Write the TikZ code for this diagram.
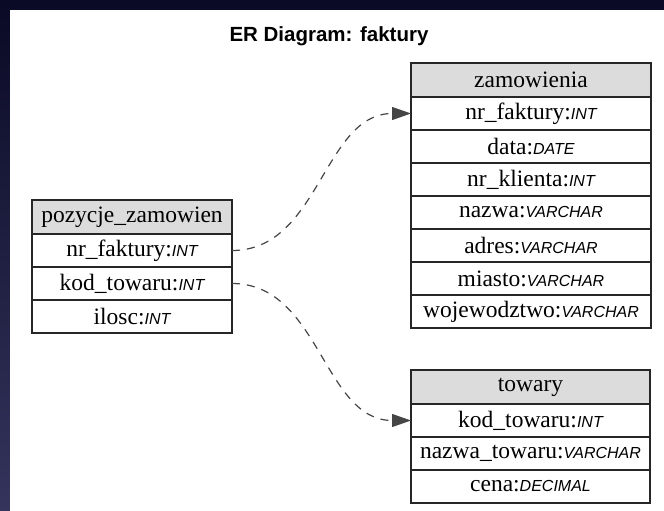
\documentclass[tikz,border=0pt]{standalone}
\usepackage{fontspec}
\setmainfont{Liberation Serif}
\newfontfamily\typefont{Liberation Sans}
\usetikzlibrary{arrows.meta,positioning}

\definecolor{bgtop}{RGB}{10,10,38}
\definecolor{bgbottom}{RGB}{52,52,92}
\definecolor{headgray}{RGB}{220,220,220}
\definecolor{edgegray}{RGB}{70,70,70}
\newcommand{\coltype}[1]{{\fontsize{16}{16}\typefont\itshape #1}}

\begin{document}
\begin{tikzpicture}
	[x=1pt,y=-1pt,
	 %Styles
	 table_head/.style={rectangle,draw=black!85,line width=1.4pt,fill=headgray,anchor=north west,
	   minimum width=#1,minimum height=34pt,inner sep=0pt,outer sep=0pt,font=\fontsize{23.5}{23.5}\selectfont},
	 table_field/.style={rectangle,draw=black!85,line width=1.4pt,fill=white,
	   minimum width=#1,minimum height=33pt,inner sep=0pt,outer sep=0pt,font=\fontsize{23.5}{23.5}\selectfont},
	 fk_edge/.style={draw=edgegray,line width=1.2pt,dash pattern=on 8pt off 7pt,
	   -{Triangle[length=19pt,width=13pt]}},
	 title_text/.style={rectangle,font=\fontsize{20.5}{20.5}\typefont\bfseries}
	]

	%Background
	\useasboundingbox (0,0) rectangle (664,511);
	\fill[top color=bgtop,bottom color=bgbottom] (0,0) rectangle (664,511);
	\fill[white] (10,10) rectangle (664,511);

	\node (title) [title_text] at (329,36) {ER Diagram: faktury};

	%Table pozycje_zamowien
	\node (poz0) [table_head=200pt] at (32,200) {pozycje\_zamowien};
	\node (poz1) [table_field=200pt, below=0pt of poz0] {nr\_faktury:\coltype{INT}};
	\node (poz2) [table_field=200pt, below=0pt of poz1] {kod\_towaru:\coltype{INT}};
	\node (poz3) [table_field=200pt, below=0pt of poz2] {ilosc:\coltype{INT}};

	%Table zamowienia
	\node (zam0) [table_head=240pt] at (411,63) {zamowienia};
	\node (zam1) [table_field=240pt, below=0pt of zam0] {nr\_faktury:\coltype{INT}};
	\node (zam2) [table_field=240pt, below=0pt of zam1] {data:\coltype{DATE}};
	\node (zam3) [table_field=240pt, below=0pt of zam2] {nr\_klienta:\coltype{INT}};
	\node (zam4) [table_field=240pt, below=0pt of zam3] {nazwa:\coltype{VARCHAR}};
	\node (zam5) [table_field=240pt, below=0pt of zam4] {adres:\coltype{VARCHAR}};
	\node (zam6) [table_field=240pt, below=0pt of zam5] {miasto:\coltype{VARCHAR}};
	\node (zam7) [table_field=240pt, below=0pt of zam6] {wojewodztwo:\coltype{VARCHAR}};

	%Table towary
	\node (tow0) [table_head=239pt] at (411,370) {towary};
	\node (tow1) [table_field=239pt, below=0pt of tow0] {kod\_towaru:\coltype{INT}};
	\node (tow2) [table_field=239pt, below=0pt of tow1] {nazwa\_towaru:\coltype{VARCHAR}};
	\node (tow3) [table_field=239pt, below=0pt of tow2] {cena:\coltype{DECIMAL}};

	%Edges
	\path
	    (poz1.east) edge [fk_edge, out=0, in=180] (zam1.west)
	    (poz2.east) edge [fk_edge, out=0, in=180] (tow1.west);
\end{tikzpicture}
\end{document}
